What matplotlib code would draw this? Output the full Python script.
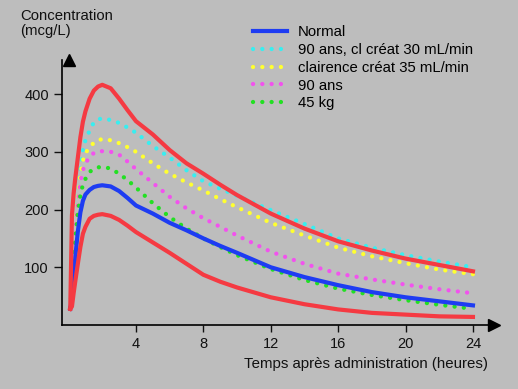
import matplotlib
matplotlib.use('Agg')
from matplotlib import pyplot as plt

plt.rcParams['font.family'] = ['Liberation Sans', 'DejaVu Sans']

# temps (heures)
t = [0.1, 0.2, 0.3, 0.4, 0.55, 0.7, 0.85, 1.0, 1.25, 1.5, 1.75, 2, 2.5, 3, 3.5, 4,
     5, 6, 7, 8, 9, 10, 12, 14, 16, 18, 20, 22, 24]

# concentrations (mcg/L)
normal = [28, 45, 68, 118, 162, 195, 215, 226, 234, 239, 241, 242, 240, 232, 220, 207,
          193, 177, 164, 150, 137, 125, 100, 83, 69, 57, 48, 41, 34]
haut = [28, 190, 228, 255, 290, 325, 352, 370, 392, 406, 413, 416, 410, 392, 372, 353,
        330, 303, 280, 262, 243, 225, 193, 167, 145, 129, 115, 104, 93]
bas = [28, 32, 55, 76, 106, 135, 158, 170, 184, 189, 191, 192, 189, 182, 172, 161,
       143, 125, 106, 87, 75, 65, 48, 36, 27, 21, 18, 15, 14]
cl30 = [30, 80, 140, 190, 240, 278, 303, 320, 337, 351, 356, 358, 355, 350, 342, 333,
        310, 290, 268, 249, 236, 224, 199, 175, 150, 134, 121, 110, 100]
cl35 = [30, 75, 130, 178, 228, 262, 285, 298, 307, 316, 320, 322, 320, 315, 308, 300,
        280, 262, 247, 233, 218, 204, 177, 155, 134, 119, 107, 96, 88]
ans90 = [30, 70, 120, 165, 215, 248, 268, 280, 291, 298, 301, 301, 300, 295, 283, 270,
         246, 222, 202, 185, 170, 155, 127, 106, 89, 79, 70, 62, 55]
kg45 = [30, 65, 110, 150, 195, 225, 243, 253, 265, 271, 273, 274, 271, 262, 251, 238,
        211, 187, 167, 150, 135, 121, 97, 78, 63, 52, 43, 35, 28]

labels = ['Normal', '90 ans, cl créat 30 mL/min', 'clairence créat 35 mL/min', '90 ans', '45 kg']
xticks = [4, 8, 12, 16, 20, 24]
yticks = [100, 200, 300, 400]

bg = '#bdbdbd'
red = '#f53a42'
fig = plt.figure(figsize=(5.18, 3.89), dpi=100, facecolor=bg)
ax = fig.add_axes([0.1197, 0.1645, 0.834, 0.6813], facecolor=bg)

dot = dict(lw=3.1, linestyle=(0, (0.01, 2.15)), dash_capstyle='round')
h1, = ax.plot(t, cl30, color='#38eef0', **dot)
h2, = ax.plot(t, cl35, color='#ffff30', **dot)
h3, = ax.plot(t, ans90, color='#f252ee', **dot)
h4, = ax.plot(t, kg45, color='#22e022', **dot)
h0, = ax.plot(t, normal, color='#1e3cf2', lw=3)
ax.plot(t, haut, color=red, lw=3)
ax.plot(t, bas, color=red, lw=3)

ax.set_xlim(-0.39, 25.25)
ax.set_ylim(0, 459)
ax.set_xticks(xticks)
ax.set_yticks(yticks)
ax.tick_params(labelsize=10.5, colors='#111111', length=6, width=1)
ax.tick_params(axis='x', length=5)
for s in ['top', 'right']:
    ax.spines[s].set_visible(False)
for s in ['left', 'bottom']:
    ax.spines[s].set_linewidth(1.2)
ax.plot(1, 0, '>k', ms=8, transform=ax.get_yaxis_transform(), clip_on=False)
ax.plot(0, 1, '^k', ms=8, transform=ax.get_xaxis_transform(), clip_on=False)

fig.text(20 / 518, 1 - 9 / 389, 'Concentration\n(mcg/L)', fontsize=10.7,
         va='top', ha='left', color='#111111', linespacing=1.05)
fig.text(488 / 518, 1 - 368 / 389, 'Temps après administration (heures)',
         fontsize=10.8, ha='right', va='baseline', color='#111111')

ax.legend([h0, h1, h2, h3, h4], labels, loc='upper left',
          bbox_to_anchor=(253 / 518, 1 - 25 / 389), bbox_transform=fig.transFigure,
          frameon=False, fontsize=10.7, handlelength=2.3, handletextpad=0.7,
          labelspacing=0.26, borderpad=0, borderaxespad=0)

fig.savefig('out.png', dpi=100, facecolor=bg)
